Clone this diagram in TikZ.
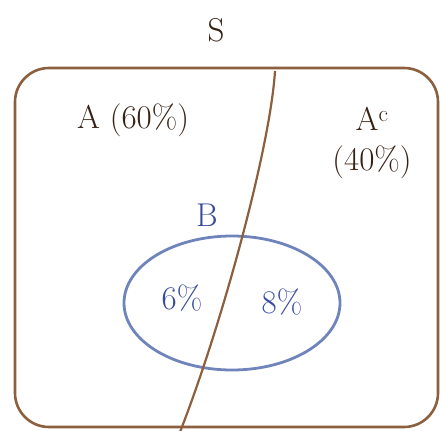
\documentclass[tikz,border=0pt]{standalone}
\usepackage{tikz}
\usetikzlibrary{shapes.geometric}
\definecolor{pen}{RGB}{140,96,62}
\definecolor{ink}{RGB}{55,33,20}
\definecolor{bpen}{RGB}{112,132,188}
\definecolor{bink}{RGB}{55,75,155}

\begin{document}
\begin{tikzpicture}[x=1pt,y=-1pt,font=\fontsize{33}{40}\selectfont,
  box/.style={draw=pen,line width=2.6pt,rounded corners=34pt},
  cut/.style={draw=pen,line width=2.2pt},
  setb/.style={draw=bpen,line width=2.8pt},
  lab/.style={text=ink,align=center},
  blab/.style={text=bink}]
  \useasboundingbox (0,0) rectangle (446,430);
  \draw[box] (15,68) rectangle (438,427);
  \node[setb,ellipse,minimum width=216pt,minimum height=134pt] (b) at (232,303) {};
  \coordinate (top) at (275,71);
  \coordinate (bot) at (180,432);
  \draw[cut] (top) .. controls (270,150) and (220,330) .. (bot);
  \node[lab] (s) at (216,30) {S};
  \node[lab] (a) at (133,120) {A (60\%)};
  \node[lab] (ac) at (372,143) {A\textsuperscript{c}\\(40\%)};
  \node[blab] (bl) at (207,215) {B};
  \node[blab] (p6) at (182,298) {6\%};
  \node[blab] (p8) at (282,302) {8\%};
\end{tikzpicture}
\end{document}
